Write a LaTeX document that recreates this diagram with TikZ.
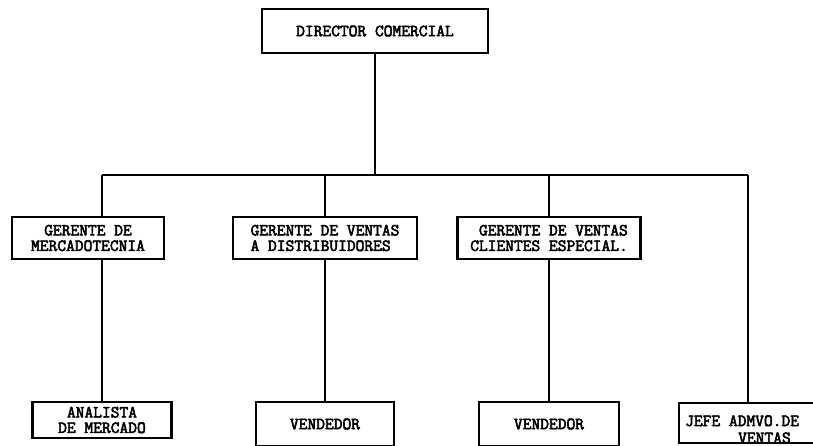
\documentclass[tikz,border=0pt]{standalone}
\usepackage{fontspec}
\newfontfamily\typewr[FakeBold=3.2]{Latin Modern Mono}
\begin{document}
\begin{tikzpicture}[x=1pt,y=-1pt,
  txt/.style={font=\typewr\fontsize{17}{15.5}\selectfont},
  box/.style={draw, line width=2.4pt, inner sep=0pt, txt},
  link/.style={line width=2.4pt}]
\useasboundingbox (0,0) rectangle (813,445);
\clip (0,0) rectangle (813,445);

% top level
\node[box, minimum width=226, minimum height=44] (dir) at (375,31) {DIRECTOR COMERCIAL};

% second level
\node[box, minimum width=152, minimum height=42, align=center] (mkt) at (88,238)
  {GERENTE DE\\MERCADOTECNIA};
\node[box, minimum width=184, minimum height=42, align=left] (dist) at (325,238)
  {GERENTE DE VENTAS\\A DISTRIBUIDORES};
\node[box, minimum width=183, minimum height=42, align=right] (esp) at (549,238)
  {GERENTE DE VENTAS\\CLIENTES ESPECIAL.};

% third level
\node[box, minimum width=139, minimum height=36, align=center] (ana) at (102,420)
  {ANALISTA\\DE MERCADO};
\node[box, minimum width=138, minimum height=44] (vend1) at (325,424) {VENDEDOR};
\node[box, minimum width=140, minimum height=44] (vend2) at (549,424) {VENDEDOR};
\node[draw, line width=2.4pt, minimum width=164, minimum height=40, anchor=north west]
  (jefe) at (678,402) {};
\node[txt, anchor=base west, inner sep=0pt] (jefe1) at (685,426) {JEFE ADMVO.DE};
\node[txt, anchor=base west, inner sep=0pt] (jefe2) at (738,443) {VENTAS};

% distribution bar
\coordinate (busL) at (102,175);
\coordinate (busC) at (375,175);
\coordinate (busR) at (748,175);

\draw[link] (dir.south) -- (busC);
\draw[link] (busL) -- (busR);
\draw[link] (busL) -- (busL |- mkt.north);
\draw[link] (dist.north |- busL) -- (dist.north);
\draw[link] (esp.north |- busL) -- (esp.north);
\draw[link] (busR) -- (busR |- jefe.north);

\draw[link] (ana.north |- mkt.south) -- (ana.north);
\draw[link] (dist.south) -- (vend1.north);
\draw[link] (esp.south) -- (vend2.north);
\end{tikzpicture}
\end{document}
